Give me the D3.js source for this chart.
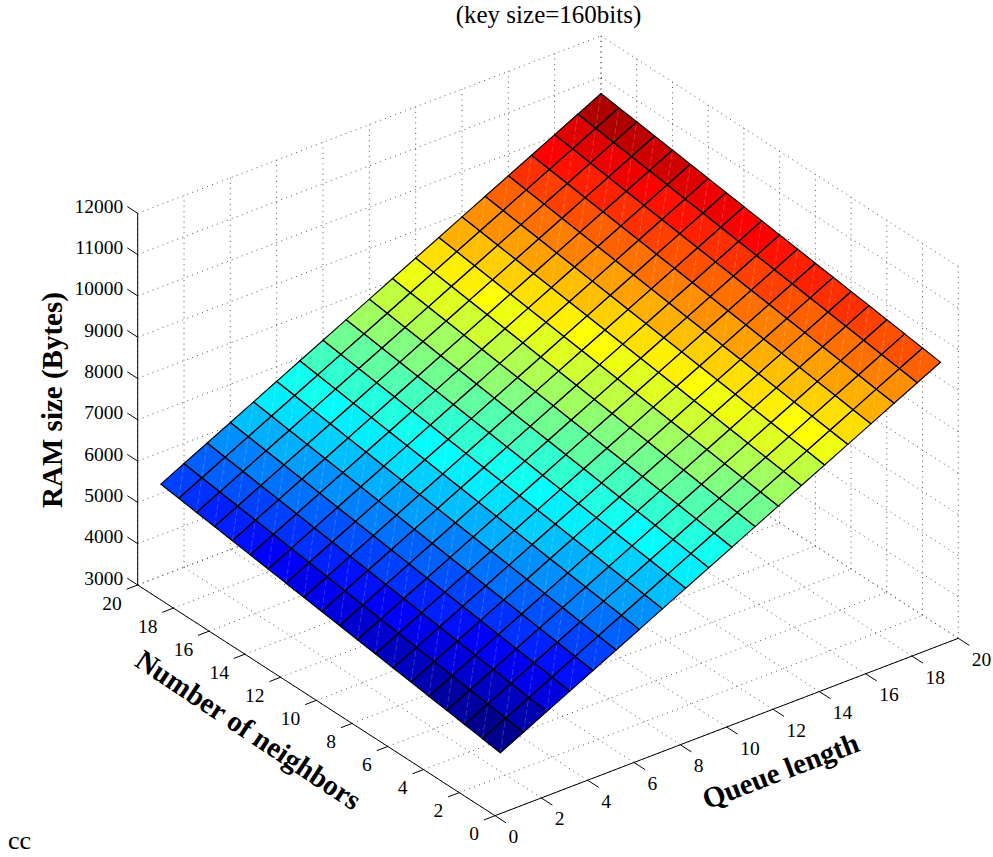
<!DOCTYPE html>
<html>
<head>
<meta charset="utf-8">
<script src="https://cdn.jsdelivr.net/npm/d3@7"></script>
<style>
html,body{margin:0;padding:0;background:#fff;}
svg{display:block;font-family:"Liberation Serif","Times New Roman",serif;fill:#000;}
</style>
</head>
<body>
<svg id="chart" width="993" height="857"></svg>
<script>
const chartTitle = "(key size=160bits)";
const queueLabel = "Queue length";
const neighborLabel = "Number of neighbors";
const ramLabel = "RAM size (Bytes)";
const footnote = "cc";
const queueTicks = [0,2,4,6,8,10,12,14,16,18,20];
const neighborTicks = [0,2,4,6,8,10,12,14,16,18,20];
const ramTicks = [3000,4000,5000,6000,7000,8000,9000,10000,11000,12000];
const queueValues = [1,2,3,4,5,6,7,8,9,10,11,12,13,14,15,16,17,18,19,20];
const neighborValues = [1,2,3,4,5,6,7,8,9,10,11,12,13,14,15,16,17,18,19,20];
// RAM bytes: one row per neighbor count, one column per queue length
const ramN01 = [4030,4313,4596,4879,5162,5445,5728,6011,6294,6577,6860,7143,7426,7709,7992,8275,8558,8841,9124,9407];
const ramN02 = [4093,4376,4659,4942,5225,5508,5791,6074,6357,6640,6923,7206,7489,7772,8055,8338,8621,8904,9187,9470];
const ramN03 = [4156,4439,4722,5005,5288,5571,5854,6137,6420,6703,6986,7269,7552,7835,8118,8401,8684,8967,9250,9533];
const ramN04 = [4219,4502,4785,5068,5351,5634,5917,6200,6483,6766,7049,7332,7615,7898,8181,8464,8747,9030,9313,9596];
const ramN05 = [4282,4565,4848,5131,5414,5697,5980,6263,6546,6829,7112,7395,7678,7961,8244,8527,8810,9093,9376,9659];
const ramN06 = [4345,4628,4911,5194,5477,5760,6043,6326,6609,6892,7175,7458,7741,8024,8307,8590,8873,9156,9439,9722];
const ramN07 = [4408,4691,4974,5257,5540,5823,6106,6389,6672,6955,7238,7521,7804,8087,8370,8653,8936,9219,9502,9785];
const ramN08 = [4471,4754,5037,5320,5603,5886,6169,6452,6735,7018,7301,7584,7867,8150,8433,8716,8999,9282,9565,9848];
const ramN09 = [4534,4817,5100,5383,5666,5949,6232,6515,6798,7081,7364,7647,7930,8213,8496,8779,9062,9345,9628,9911];
const ramN10 = [4597,4880,5163,5446,5729,6012,6295,6578,6861,7144,7427,7710,7993,8276,8559,8842,9125,9408,9691,9974];
const ramN11 = [4660,4943,5226,5509,5792,6075,6358,6641,6924,7207,7490,7773,8056,8339,8622,8905,9188,9471,9754,10037];
const ramN12 = [4723,5006,5289,5572,5855,6138,6421,6704,6987,7270,7553,7836,8119,8402,8685,8968,9251,9534,9817,10100];
const ramN13 = [4786,5069,5352,5635,5918,6201,6484,6767,7050,7333,7616,7899,8182,8465,8748,9031,9314,9597,9880,10163];
const ramN14 = [4849,5132,5415,5698,5981,6264,6547,6830,7113,7396,7679,7962,8245,8528,8811,9094,9377,9660,9943,10226];
const ramN15 = [4912,5195,5478,5761,6044,6327,6610,6893,7176,7459,7742,8025,8308,8591,8874,9157,9440,9723,10006,10289];
const ramN16 = [4975,5258,5541,5824,6107,6390,6673,6956,7239,7522,7805,8088,8371,8654,8937,9220,9503,9786,10069,10352];
const ramN17 = [5038,5321,5604,5887,6170,6453,6736,7019,7302,7585,7868,8151,8434,8717,9000,9283,9566,9849,10132,10415];
const ramN18 = [5101,5384,5667,5950,6233,6516,6799,7082,7365,7648,7931,8214,8497,8780,9063,9346,9629,9912,10195,10478];
const ramN19 = [5164,5447,5730,6013,6296,6579,6862,7145,7428,7711,7994,8277,8560,8843,9126,9409,9692,9975,10258,10541];
const ramN20 = [5227,5510,5793,6076,6359,6642,6925,7208,7491,7774,8057,8340,8623,8906,9189,9472,9755,10038,10321,10604];
const ramRows = [ramN01,ramN02,ramN03,ramN04,ramN05,ramN06,ramN07,ramN08,ramN09,ramN10,ramN11,ramN12,ramN13,ramN14,ramN15,ramN16,ramN17,ramN18,ramN19,ramN20];

const svg = d3.select("#chart");

// Oblique projection built from three linear scales
const qX = d3.scaleLinear().domain([0,20]).range([0,463.3]);
const qY = d3.scaleLinear().domain([0,20]).range([0,-177.4]);
const nX = d3.scaleLinear().domain([0,20]).range([0,-357.3]);
const nY = d3.scaleLinear().domain([0,20]).range([0,-230.7]);
const zY = d3.scaleLinear().domain([3000,12000]).range([0,-371.7]);
const ox = 495, oy = 815.7;
const P = (q,n,z) => [ox + qX(q) + nX(n), oy + qY(q) + nY(n) + zY(z)];
const line = d3.line();

// Jet colormap, 64 steps
const clamp01 = v => Math.max(0, Math.min(1, v));
const jet = d3.range(1,65).map(i => {
  const t = i/64;
  return d3.rgb(255*clamp01(1.5-Math.abs(4*t-3)), 255*clamp01(1.5-Math.abs(4*t-2)), 255*clamp01(1.5-Math.abs(4*t-1))).formatHex();
});
const color = d3.scaleQuantize().domain([d3.min(ramRows,r=>d3.min(r)), d3.max(ramRows,r=>d3.max(r))]).range(jet);

// Dotted grid: floor and two back walls
const gridSegs = [];
queueTicks.forEach(q => {
  gridSegs.push([P(q,0,3000),P(q,20,3000)]);
  gridSegs.push([P(q,20,3000),P(q,20,12000)]);
});
neighborTicks.forEach(n => {
  gridSegs.push([P(0,n,3000),P(20,n,3000)]);
  gridSegs.push([P(20,n,3000),P(20,n,12000)]);
});
ramTicks.forEach(z => {
  gridSegs.push([P(0,20,z),P(20,20,z)]);
  gridSegs.push([P(20,20,z),P(20,0,z)]);
});
svg.append("g").selectAll("path").data(gridSegs).join("path")
  .attr("d", line).attr("fill","none").attr("stroke","#444")
  .attr("stroke-width",0.9).attr("stroke-dasharray","1 4.3");

// Surface cells, back to front
const cells = [];
for (let j = neighborValues.length-2; j >= 0; j--) {
  for (let i = queueValues.length-2; i >= 0; i--) {
    cells.push({i,j});
  }
}
const corner = (i,j) => P(queueValues[i],neighborValues[j],ramRows[j][i]);
const surf = svg.append("g");
surf.selectAll("path.cell").data(cells).join("path").attr("class","cell")
  .attr("d", c => line([corner(c.i,c.j),corner(c.i+1,c.j),corner(c.i+1,c.j+1),corner(c.i,c.j+1)])+"Z")
  .attr("fill", c => color(ramRows[c.j][c.i]))
  .attr("stroke", c => color(ramRows[c.j][c.i])).attr("stroke-width",0.3);
surf.selectAll("path.seam").data(cells).join("path").attr("class","seam")
  .attr("d", c => line([corner(c.i,c.j),corner(c.i+1,c.j+1)]))
  .attr("fill","none").attr("stroke","#fff").attr("stroke-opacity",0.27)
  .attr("stroke-width",0.7).attr("stroke-dasharray","6 2.5");
surf.selectAll("path.edge").data(cells).join("path").attr("class","edge")
  .attr("d", c => line([corner(c.i,c.j),corner(c.i+1,c.j),corner(c.i+1,c.j+1),corner(c.i,c.j+1)])+"Z")
  .attr("fill","none").attr("stroke","#000").attr("stroke-width",1.15).attr("stroke-linejoin","miter");

// Axis lines
const axisG = svg.append("g").attr("fill","none").attr("stroke","#000").attr("stroke-width",1);
[[P(0,0,3000),P(20,0,3000)],[P(0,0,3000),P(0,20,3000)],[P(0,20,3000),P(0,20,12000)]]
  .forEach(s => axisG.append("path").attr("d",line(s)));
// Ticks
queueTicks.forEach(q => axisG.append("path").attr("d",line([P(q,0,3000),P(q,-0.62,3000)])));
neighborTicks.forEach(n => axisG.append("path").attr("d",line([P(0,n,3000),P(-0.48,n,3000)])));
ramTicks.forEach(z => axisG.append("path").attr("d",line([P(0,20,z),P(0,20.58,z)])));

// Tick labels
const tickFont = 19.5;
const textG = svg.append("g").attr("font-size",tickFont).attr("fill","#000");
queueTicks.forEach(q => { const p = P(q,0,3000);
  textG.append("text").attr("x",p[0]+13.5).attr("y",p[1]+27.5).text(q); });
neighborTicks.forEach(n => { const p = P(0,n,3000);
  textG.append("text").attr("x",p[0]-16).attr("y",p[1]+24.5).attr("text-anchor","end").text(n); });
ramTicks.forEach(z => { const p = P(0,20,z);
  textG.append("text").attr("x",p[0]-14.5).attr("y",p[1]-0.5).attr("text-anchor","end").text(z); });

// Titles
svg.append("text").attr("x",548.5).attr("y",22.6).attr("text-anchor","middle").attr("font-size",25).text(chartTitle);
svg.append("text").attr("transform","translate(62,400) rotate(-90)").attr("text-anchor","middle")
  .attr("font-size",29).attr("font-weight","bold").text(ramLabel);
svg.append("text").attr("transform","translate(243,738) rotate(33.6)").attr("text-anchor","middle")
  .attr("font-size",29).attr("font-weight","bold").text(neighborLabel);
svg.append("text").attr("transform","translate(784,780) rotate(-21)").attr("text-anchor","middle")
  .attr("font-size",29).attr("font-weight","bold").text(queueLabel);
svg.append("text").attr("x",8).attr("y",849).attr("font-size",26).text(footnote);
</script>
</body>
</html>
